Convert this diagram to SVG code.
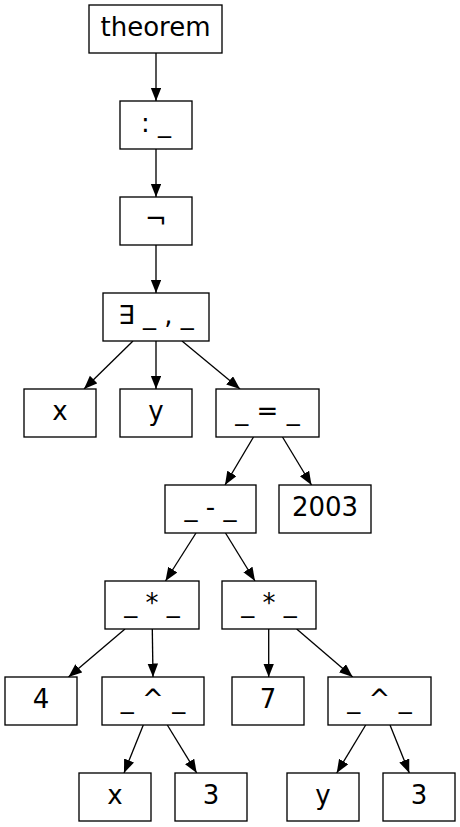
<svg xmlns="http://www.w3.org/2000/svg" width="460" height="827" viewBox="0 0 460 827">
<style>
.n rect{fill:#fff;stroke:#000;stroke-width:1.33}
.n text{font-family:"DejaVu Sans",sans-serif;font-size:26px;text-anchor:middle;fill:#000}
#edges line{stroke:#000;stroke-width:1.33;marker-end:url(#ah)}
</style>
<defs>
<marker id="ah" markerUnits="userSpaceOnUse" markerWidth="14" markerHeight="12" refX="13.5" refY="5.35" orient="auto" viewBox="0 0 14 12">
<path d="M0,0 L13.5,5.35 L0,10.7 Z" fill="#000"/>
</marker>
</defs>
<rect width="460" height="827" fill="#fff"/>
<g id="edges">
<line x1="156" y1="53" x2="156" y2="101"/>
<line x1="156" y1="149" x2="156" y2="197"/>
<line x1="156" y1="245" x2="156" y2="293"/>
<line x1="133" y1="341" x2="84" y2="389"/>
<line x1="156" y1="341" x2="156" y2="389"/>
<line x1="182" y1="341" x2="240" y2="389"/>
<line x1="253.5" y1="437" x2="225" y2="485"/>
<line x1="282.5" y1="437" x2="311.5" y2="485"/>
<line x1="196" y1="533" x2="165.5" y2="581"/>
<line x1="225.5" y1="533" x2="255" y2="581"/>
<line x1="125" y1="629" x2="68.5" y2="677"/>
<line x1="152.3" y1="629" x2="153" y2="677"/>
<line x1="268.7" y1="629" x2="268.7" y2="677"/>
<line x1="296.7" y1="629" x2="352.7" y2="677"/>
<line x1="143.3" y1="725" x2="124" y2="773"/>
<line x1="167.3" y1="725" x2="196.7" y2="773"/>
<line x1="365.7" y1="725" x2="336.7" y2="773"/>
<line x1="390" y1="725" x2="409.3" y2="773"/>
</g>
<g id="theorem" class="n"><rect x="89" y="5" width="133" height="48"/><text x="155.5" y="36">theorem</text></g>
<g id="colon" class="n"><rect x="120" y="101" width="72" height="48"/><text x="156" y="132">: _</text></g>
<g id="not" class="n"><rect x="120" y="197" width="72" height="48"/><text x="156" y="228">¬</text></g>
<g id="exists" class="n"><rect x="103" y="293" width="106" height="48"/><text x="156" y="324">∃ _ , _</text></g>
<g id="x1" class="n"><rect x="24" y="389" width="72" height="48"/><text x="60" y="420">x</text></g>
<g id="y1" class="n"><rect x="120" y="389" width="72" height="48"/><text x="156" y="420">y</text></g>
<g id="eq" class="n"><rect x="216" y="389" width="103" height="48"/><text x="267.5" y="420">_ = _</text></g>
<g id="minus" class="n"><rect x="165" y="485" width="91" height="48"/><text x="210.5" y="516">_ - _</text></g>
<g id="n2003" class="n"><rect x="279" y="485" width="92" height="48"/><text x="325" y="516">2003</text></g>
<g id="mul1" class="n"><rect x="105" y="581" width="94" height="48"/><text x="152" y="612">_ * _</text></g>
<g id="mul2" class="n"><rect x="222" y="581" width="94" height="48"/><text x="269" y="612">_ * _</text></g>
<g id="n4" class="n"><rect x="5" y="677" width="72" height="48"/><text x="41" y="708">4</text></g>
<g id="pow1" class="n"><rect x="102" y="677" width="102" height="48"/><text x="153" y="708">_ ^ _</text></g>
<g id="n7" class="n"><rect x="232" y="677" width="72" height="48"/><text x="268" y="708">7</text></g>
<g id="pow2" class="n"><rect x="328" y="677" width="103" height="48"/><text x="379.5" y="708">_ ^ _</text></g>
<g id="x2" class="n"><rect x="79" y="773" width="72" height="48"/><text x="115" y="804">x</text></g>
<g id="n3a" class="n"><rect x="175" y="773" width="72" height="48"/><text x="211" y="804">3</text></g>
<g id="y2" class="n"><rect x="287" y="773" width="72" height="48"/><text x="323" y="804">y</text></g>
<g id="n3b" class="n"><rect x="383" y="773" width="72" height="48"/><text x="419" y="804">3</text></g>
</svg>
